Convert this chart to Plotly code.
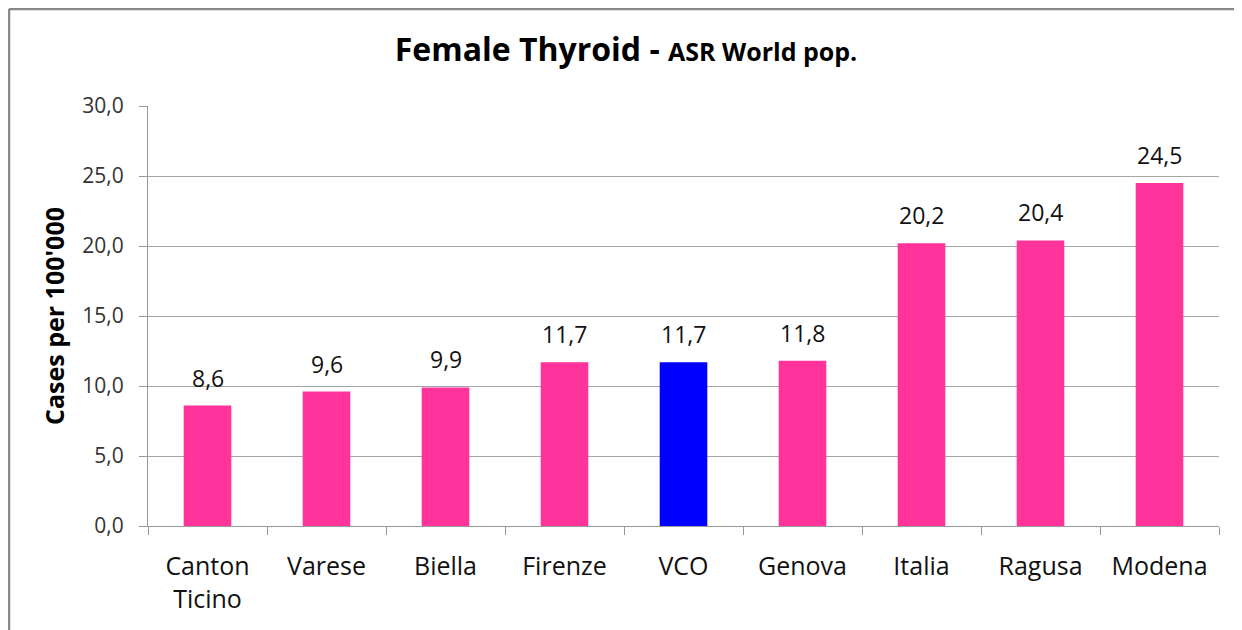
import plotly.graph_objects as go

categories = ["Canton<br>Ticino", "Varese", "Biella", "Firenze", "VCO", "Genova", "Italia", "Ragusa", "Modena"]
values = [8.6, 9.6, 9.9, 11.7, 11.7, 11.8, 20.2, 20.4, 24.5]
bar_colors = ["#FF3399", "#FF3399", "#FF3399", "#FF3399", "#0000FF", "#FF3399", "#FF3399", "#FF3399", "#FF3399"]
y_ticks = [0, 5, 10, 15, 20, 25, 30]

FONT = "'Open Sans', Lato, sans-serif"

fig = go.Figure(go.Bar(
    x=categories, y=values,
    marker=dict(color=bar_colors, line=dict(width=0)),
    hoverinfo="x+y",
))

# value labels above bars
for c, v in zip(categories, values):
    fig.add_annotation(
        x=c, y=v, text=f"{v:.1f}".replace(".", ","), showarrow=False,
        xanchor="center", yanchor="bottom", yshift=10,
        font=dict(size=23, color="#111", family=FONT),
    )

# page body has an 8px margin; figure sized to reach the viewport edges
W, H = 1234, 622
ml, mr, mt, mb = 140, 23, 98, 104
pw, ph = W - ml - mr, H - mt - mb

frame = dict(color="#888", width=2.5)
fig.update_layout(
    width=W, height=H,
    margin=dict(l=ml, r=mr, t=mt, b=mb, autoexpand=False),
    paper_bgcolor="white", plot_bgcolor="white",
    separators=",.",
    bargap=0.6,
    showlegend=False,
    font=dict(family=FONT, color="#111"),
    title=dict(
        text="<b>Female Thyroid - </b><b><span style='font-size:25px'>ASR World pop.</span></b>",
        x=(626 - 8) / W, xanchor="center", y=1 - 42 / H, yanchor="middle",
        font=dict(size=32, color="#000", family=FONT),
    ),
    xaxis=dict(
        type="category", tickson="boundaries", ticks="outside", ticklen=8, tickcolor="#999",
        showline=True, linecolor="#999", linewidth=1.2, showgrid=False,
        tickfont=dict(size=25, color="#111", family=FONT),
        ticklabelstandoff=18, automargin=False,
    ),
    yaxis=dict(
        range=[0, 30], tickvals=y_ticks, tickformat=".1f",
        ticks="outside", ticklen=8, tickcolor="#999",
        showline=True, linecolor="#999", linewidth=1.2,
        showgrid=True, gridcolor="#a6a6a6", gridwidth=1.2,
        zeroline=False,
        tickfont=dict(size=21, color="#333", family=FONT),
        ticklabelstandoff=11, automargin=False,
        title=dict(text="<b>Cases per 100'000</b>", font=dict(size=25, color="#000", family=FONT), standoff=10),
    ),
    shapes=[
        # top edge of chart frame
        dict(type="line", xref="paper", yref="paper",
             x0=(1 - ml) / pw, x1=(W - ml) / pw, y0=1 + (mt - 1) / ph, y1=1 + (mt - 1) / ph,
             line=frame, layer="below"),
        # left edge of chart frame
        dict(type="line", xref="paper", yref="paper",
             x0=(1 - ml) / pw, x1=(1 - ml) / pw, y0=-mb / ph, y1=1 + (mt - 1) / ph,
             line=frame, layer="below"),
    ],
)

fig.write_html("out.html")
